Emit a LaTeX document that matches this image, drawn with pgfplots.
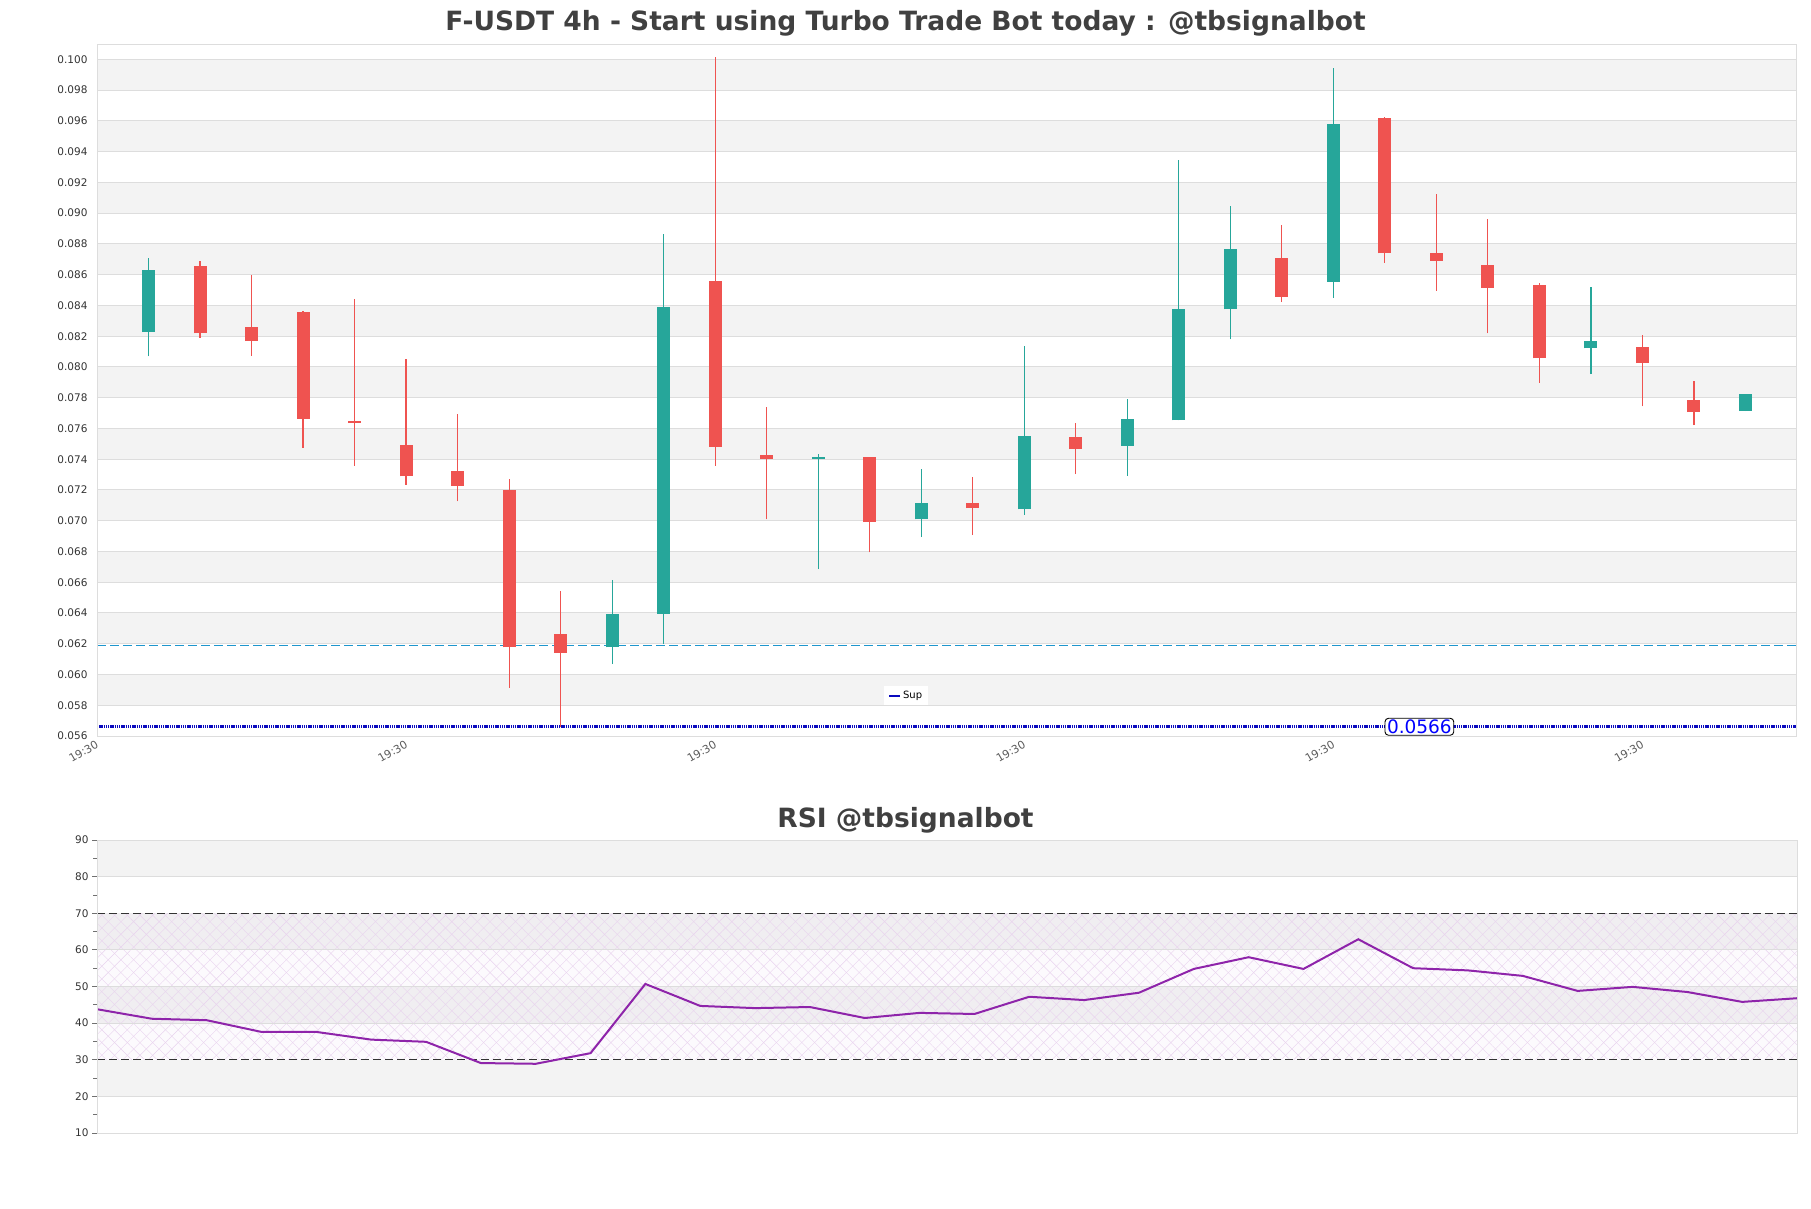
\documentclass[border=0pt]{standalone}
\usepackage{fontspec}
\setmainfont{DejaVu Sans}
\usepackage{pgfplots}
\pgfplotsset{compat=1.18}
\usepackage{pgfplotstable}
\usetikzlibrary{patterns.meta}

\definecolor{upc}{RGB}{38,166,154}
\definecolor{dnc}{RGB}{239,83,80}
\definecolor{bandc}{RGB}{243,243,243}
\definecolor{gridc}{RGB}{221,221,221}
\definecolor{titlec}{RGB}{64,64,64}
\definecolor{tickc}{RGB}{51,51,51}
\definecolor{supc}{RGB}{10,10,190}
\definecolor{resc}{RGB}{30,150,205}
\definecolor{rsic}{RGB}{142,36,170}

\pgfplotstableread{
i o h l c
0 0.08226 0.08709 0.08068 0.08632
9 0.06176 0.06612 0.06068 0.06391
10 0.06394 0.08865 0.06197 0.08391
13 0.07400 0.07435 0.06685 0.07412
15 0.07009 0.07338 0.06894 0.07118
17 0.07074 0.08138 0.07038 0.07553
19 0.07488 0.07794 0.07291 0.07659
20 0.07653 0.09347 0.07653 0.08374
21 0.08374 0.09047 0.08179 0.08768
23 0.08553 0.09944 0.08450 0.09579
28 0.08121 0.08521 0.07953 0.08171
31 0.07712 0.07821 0.07712 0.07821
}\uptab

\pgfplotstableread{
i o h l c
1 0.08659 0.08691 0.08191 0.08218
2 0.08262 0.08597 0.08074 0.08168
3 0.08359 0.08365 0.07476 0.07662
4 0.07647 0.08444 0.07356 0.07635
5 0.07494 0.08053 0.07235 0.07288
6 0.07326 0.07691 0.07126 0.07229
7 0.07200 0.07271 0.05915 0.06176
8 0.06262 0.06544 0.05656 0.06141
11 0.08562 0.10015 0.07356 0.07482
12 0.07429 0.07741 0.07009 0.07400
14 0.07412 0.07412 0.06794 0.06994
16 0.07118 0.07282 0.06906 0.07082
18 0.07547 0.07638 0.07303 0.07465
22 0.08709 0.08924 0.08421 0.08456
24 0.09621 0.09626 0.08679 0.08738
25 0.08741 0.09126 0.08497 0.08691
26 0.08665 0.08962 0.08218 0.08512
27 0.08535 0.08547 0.07897 0.08056
29 0.08132 0.08209 0.07744 0.08024
30 0.07788 0.07906 0.07621 0.07706
}\dntab

\pgfplotstableread{
x y
0 43.8
1 41.2
2 40.8
3 37.6
4 37.6
5 35.5
6 34.9
7 29.1
8 28.9
9 31.8
10 50.7
11 44.7
12 44.1
13 44.4
14 41.4
15 42.8
16 42.5
17 47.2
18 46.3
19 48.3
20 54.8
21 58.0
22 54.8
23 62.9
24 55.0
25 54.4
26 52.9
27 48.8
28 49.9
29 48.5
30 45.8
31 46.8
}\rsitab

\begin{document}
\begin{tikzpicture}
\useasboundingbox (0pt,0pt) rectangle (1811pt,-1208pt);

\node[font=\bfseries\fontsize{26.5}{30}\selectfont, text=titlec] at (905.5pt,-23pt)
  {F-USDT 4h - Start using Turbo Trade Bot today : @tbsignalbot};
\node[font=\bfseries\fontsize{26.5}{30}\selectfont, text=titlec] at (905.5pt,-820pt)
  {RSI @tbsignalbot};

\begin{axis}[
  at={(97pt,-44pt)}, anchor=north west,
  width=1700pt, height=692pt, scale only axis,
  xmin=-1, xmax=32, ymin=0.056, ymax=0.101,
  axis on top,
  axis line style={gridc, line width=1pt},
  major tick length=0pt,
  scaled y ticks=false,
  ytick={0.056,0.058,0.060,0.062,0.064,0.066,0.068,0.070,0.072,0.074,0.076,0.078,0.080,0.082,0.084,0.086,0.088,0.090,0.092,0.094,0.096,0.098,0.100},
  yticklabel style={font=\fontsize{10.5}{12}\selectfont, text=tickc, xshift=-6pt,
    /pgf/number format/.cd, fixed, fixed zerofill, precision=3, assume math mode=true},
  xtick={-1,5,11,17,23,29},
  xticklabels={19:30,19:30,19:30,19:30,19:30,19:30},
  xticklabel style={rotate=30, anchor=north east, font=\fontsize{11}{12}\selectfont, text=tickc!80, yshift=1pt},
  legend style={at={(0.476,0.058)}, anchor=center, draw=none, fill=white,
    font=\fontsize{10}{12}\selectfont, inner xsep=4pt, inner ysep=3pt},
  legend image code/.code={\draw[supc, solid, line width=1.8pt] (0pt,0pt) -- (11pt,0pt);},
]
% background bands
\fill[bandc] (axis cs:-1,0.058) rectangle (axis cs:32,0.060);
\fill[bandc] (axis cs:-1,0.062) rectangle (axis cs:32,0.064);
\fill[bandc] (axis cs:-1,0.066) rectangle (axis cs:32,0.068);
\fill[bandc] (axis cs:-1,0.070) rectangle (axis cs:32,0.072);
\fill[bandc] (axis cs:-1,0.074) rectangle (axis cs:32,0.076);
\fill[bandc] (axis cs:-1,0.078) rectangle (axis cs:32,0.080);
\fill[bandc] (axis cs:-1,0.082) rectangle (axis cs:32,0.084);
\fill[bandc] (axis cs:-1,0.086) rectangle (axis cs:32,0.088);
\fill[bandc] (axis cs:-1,0.090) rectangle (axis cs:32,0.092);
\fill[bandc] (axis cs:-1,0.094) rectangle (axis cs:32,0.096);
\fill[bandc] (axis cs:-1,0.098) rectangle (axis cs:32,0.100);
\pgfplotsinvokeforeach{0.058,0.060,0.062,0.064,0.066,0.068,0.070,0.072,0.074,0.076,0.078,0.080,0.082,0.084,0.086,0.088,0.090,0.092,0.094,0.096,0.098,0.100}{
  \draw[gridc, line width=1pt] (axis cs:-1,#1) -- (axis cs:32,#1);
}
% resistance line
\addplot[resc, line width=1.1pt, dash pattern=on 9pt off 4pt, forget plot]
  coordinates {(-1,0.0619) (32,0.0619)};
% wicks
\addplot[draw=none, mark=none, forget plot,
  error bars/.cd, y dir=plus, y explicit, error mark=none,
  error bar style={draw=upc, line width=1.2pt, solid}]
  table[x=i, y=l, y error plus expr={\thisrow{h}-\thisrow{l}}] {\uptab};
\addplot[draw=none, mark=none, forget plot,
  error bars/.cd, y dir=plus, y explicit, error mark=none,
  error bar style={draw=dnc, line width=1.2pt, solid}]
  table[x=i, y=l, y error plus expr={\thisrow{h}-\thisrow{l}}] {\dntab};
% bodies
\addplot[draw=none, mark=none, forget plot,
  error bars/.cd, y dir=plus, y explicit, error mark=none,
  error bar style={draw=upc, line width=13pt, solid}]
  table[x=i, y=o, y error plus expr={\thisrow{c}-\thisrow{o}}] {\uptab};
\addplot[draw=none, mark=none, forget plot,
  error bars/.cd, y dir=plus, y explicit, error mark=none,
  error bar style={draw=dnc, line width=13pt, solid}]
  table[x=i, y=c, y error plus expr={\thisrow{o}-\thisrow{c}}] {\dntab};
% support line
\addplot[supc, line width=2.8pt, dash pattern=on 1.4pt off 0.8pt]
  coordinates {(-1,0.0566) (32,0.0566)};
\addlegendentry{Sup}
\node[draw=black, fill=white, rounded corners=3.5pt, line width=0.9pt, text=blue,
  font=\fontsize{18.5}{20}\selectfont, inner xsep=2pt, inner ysep=1.5pt]
  at (axis cs:24.67,0.0566) {0.0566};
\end{axis}

\begin{axis}[
  at={(97pt,-840pt)}, anchor=north west,
  width=1700pt, height=293pt, scale only axis,
  xmin=0, xmax=31, ymin=10, ymax=90,
  axis on top,
  axis line style={gridc, line width=1pt},
  xtick=\empty,
  ytick={10,20,30,40,50,60,70,80,90},
  minor ytick={15,25,35,45,55,65,75,85},
  ytick pos=left,
  tick align=outside, major tick length=5pt, minor tick length=4pt,
  every tick/.style={tickc!70, line width=0.8pt},
  yticklabel style={font=\fontsize{10.5}{12}\selectfont, text=tickc,
    /pgf/number format/assume math mode=true},
]
\fill[bandc] (axis cs:0,80) rectangle (axis cs:31,90);
\fill[bandc] (axis cs:0,60) rectangle (axis cs:31,70);
\fill[bandc] (axis cs:0,40) rectangle (axis cs:31,50);
\fill[bandc] (axis cs:0,20) rectangle (axis cs:31,30);
\fill[rsic, opacity=0.025] (axis cs:0,30) rectangle (axis cs:31,70);
\fill[pattern={Lines[angle=45,distance=9pt,line width=0.4pt]}, pattern color=rsic!20]
  (axis cs:0,30) rectangle (axis cs:31,70);
\fill[pattern={Lines[angle=-45,distance=9pt,line width=0.4pt]}, pattern color=rsic!20]
  (axis cs:0,30) rectangle (axis cs:31,70);
\pgfplotsinvokeforeach{20,40,50,60,80}{
  \draw[gridc, line width=1pt] (axis cs:0,#1) -- (axis cs:31,#1);
}
\addplot[black!80, line width=1.3pt, dash pattern=on 8pt off 4pt, forget plot]
  coordinates {(0,30) (31,30)};
\addplot[black!80, line width=1.3pt, dash pattern=on 8pt off 4pt, forget plot]
  coordinates {(0,70) (31,70)};
\addplot[rsic, line width=2pt, forget plot] table[x=x, y=y] {\rsitab};
\end{axis}
\end{tikzpicture}
\end{document}
